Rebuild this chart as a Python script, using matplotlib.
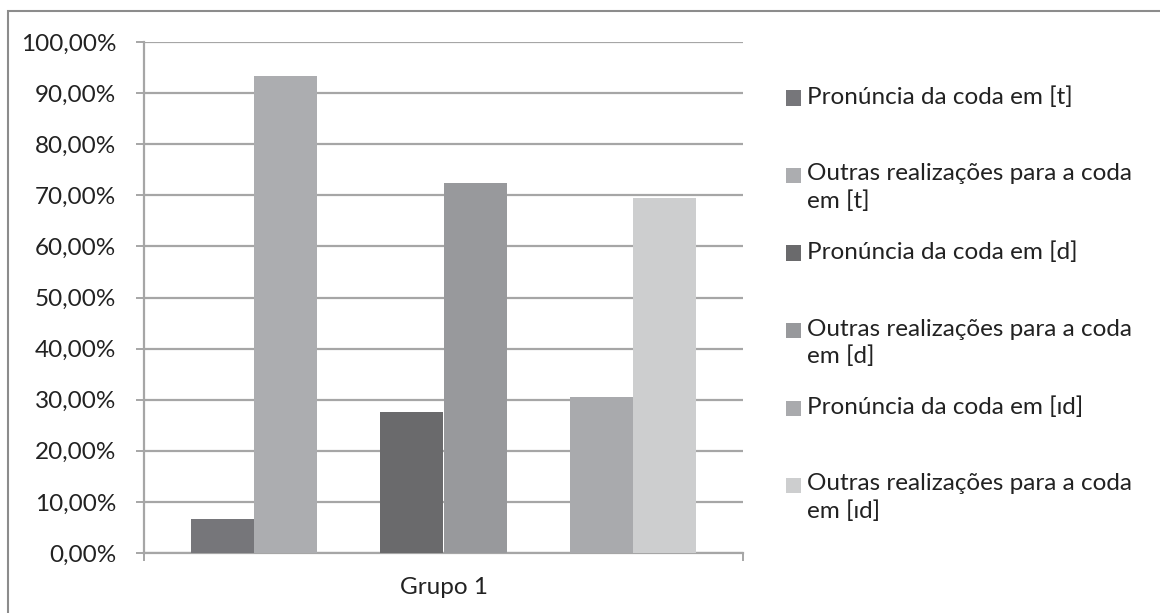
import matplotlib.pyplot as plt
from matplotlib.patches import Rectangle
from matplotlib.ticker import FuncFormatter

plt.rcParams["font.family"] = ["Lato", "DejaVu Sans"]

series = [
    "Pronúncia da coda em [t]",
    "Outras realizações para a coda\nem [t]",
    "Pronúncia da coda em [d]",
    "Outras realizações para a coda\nem [d]",
    "Pronúncia da coda em [ɪd]",
    "Outras realizações para a coda\nem [ɪd]",
]
values = [6.7, 93.3, 27.6, 72.4, 30.5, 69.5]
colors = ["#76767a", "#acadb0", "#6a6a6c", "#98999c", "#a9aaad", "#cdcecf"]
category = "Grupo 1"

# bars sit in pairs, one empty slot between pairs
slots = [0, 1, 3, 4, 6, 7]
margin = 0.74

W, H = 1160, 613
fig = plt.figure(figsize=(W / 100, H / 100), dpi=100)
ax = fig.add_axes([144 / W, 60 / H, 599 / W, 511 / H])

for s, v, c, lab in zip(slots, values, colors, series):
    ax.bar(s, v, width=1.0, color=c, label=lab, zorder=3)

grid_c = "#a6a6a6"
txt_c = "#222222"
fs = 17.5
ax.set_xlim(-0.5 - margin, 7.5 + margin)
ax.set_ylim(0, 100)
ax.set_yticks(range(0, 101, 10))
ax.yaxis.set_major_formatter(FuncFormatter(lambda v, p: f"{v:.2f}%".replace(".", ",")))
ax.yaxis.grid(True, color=grid_c, linewidth=1.6, zorder=0)
ax.tick_params(axis="y", length=6, width=1.4, color=grid_c, pad=14,
               labelsize=fs, labelcolor=txt_c)

ax.set_xticks([-0.5 - margin, 7.5 + margin], ["", ""])
ax.tick_params(axis="x", which="major", length=6, width=1.4, color=grid_c)
ax.set_xticks([sum(slots) / len(slots)], [category], minor=True)
ax.tick_params(axis="x", which="minor", length=0, pad=17, labelsize=fs,
               labelcolor=txt_c)

for side in ["top", "right"]:
    ax.spines[side].set_visible(False)
for side in ["left", "bottom"]:
    ax.spines[side].set_color(grid_c)
    ax.spines[side].set_linewidth(1.6)

# legend like Excel: equal slots, text hanging from the top of each slot
leg_x, leg_y0, leg_step, box = 786, 100, 77.5, 15
for i, (lab, c) in enumerate(zip(series, colors)):
    yc = leg_y0 + i * leg_step
    fig.patches.append(Rectangle((leg_x / W, 1 - (yc - 2 + box / 2) / H), box / W, box / H,
                                 transform=fig.transFigure, facecolor=c,
                                 edgecolor="none"))
    fig.text((leg_x + box + 6) / W, 1 - (yc - 14) / H, lab, ha="left", va="top",
             fontsize=fs, color=txt_c, linespacing=1.35)

fig.patches.append(Rectangle((8 / W, -0.1), 1.2, 1.1 - 11 / H,
                             transform=fig.transFigure, fill=False,
                             edgecolor="#8c8c8c", linewidth=1.5))

fig.savefig("out.png", dpi=100)
